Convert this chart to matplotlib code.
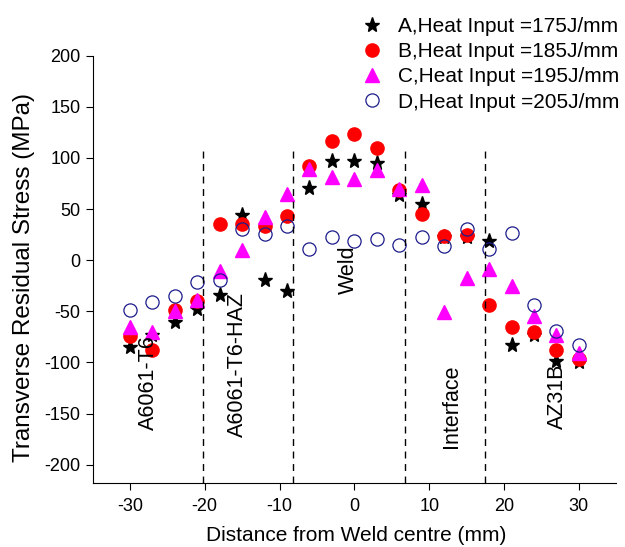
import numpy as np
import matplotlib
matplotlib.use('Agg')
import matplotlib.pyplot as plt

# ── Datos ──────────────────────────────────────────
distance = [-30, -27, -24, -21, -18, -15, -12, -9, -6, -3, 0,
            3, 6, 9, 12, 15, 18, 21, 24, 27, 30]

stress_a = [-85, -73, -60, -48, -34, 44, -19, -30, 71, 97, 97,
            95, 64, 55, 23, 23, 19, -83, -73, -99, -100]
stress_b = [-74, -88, -49, -40, 35, 35, 33, 43, 92, 117, 123,
            110, 69, 45, 24, 25, -44, -65, -70, -88, -97]
stress_c = [-65, -70, -50, -39, -11, 10, 42, 65, 89, 81, 79,
            88, 70, 74, -51, -17, -9, -25, -55, -73, -91]
stress_d = [-49, -41, -35, -21, -19, 31, 26, 33, 11, 23, 19,
            21, 15, 23, 14, 31, 11, 27, -44, -69, -83]

labels = ['A,Heat Input =175J/mm', 'B,Heat Input =185J/mm',
          'C,Heat Input =195J/mm', 'D,Heat Input =205J/mm']

zone_limits = [-20.2, -8.2, 6.8, 17.5]
zone_names = ['A6061-T6', 'A6061-T6-HAZ', 'Weld', 'Interface', 'AZ31B']
zone_x = [-27.5, -15.6, -0.8, 13.0, 27.2]
zone_y = [-120, -102, -9, -143, -133]

y_ticks = [-200, -150, -100, -50, 0, 50, 100, 150, 200]
x_ticks = [-30, -20, -10, 0, 10, 20, 30]

# ── Estilo ─────────────────────────────────────────
plt.rcParams['font.family'] = ['Liberation Sans', 'DejaVu Sans']
plt.rcParams['axes.unicode_minus'] = False

fig = plt.figure(figsize=(6.25, 5.47), dpi=100)
ax = fig.add_axes([0.148, 0.117, 0.838, 0.781])

ax.plot(distance, stress_a, linestyle='none', marker='*', color='black',
        markersize=11, label=labels[0])
ax.plot(distance, stress_b, linestyle='none', marker='o', color='red',
        markersize=9.5, label=labels[1])
ax.plot(distance, stress_c, linestyle='none', marker='^', color='#ff00ff',
        markersize=10, label=labels[2])
ax.plot(distance, stress_d, linestyle='none', marker='o', markerfacecolor='none',
        markeredgecolor='#1c1c8c', markeredgewidth=0.9, markersize=9.5,
        label=labels[3])

# Límites de zona (líneas discontinuas)
for xl in zone_limits:
    ax.plot([xl, xl], [-218, 110], color='black', linestyle=(0, (5, 4)),
            linewidth=1.0)

for name, xz, yz in zip(zone_names, zone_x, zone_y):
    ax.text(xz, yz, name, rotation=90, ha='center', va='center', fontsize=15.5)

ax.set_xlim(-35, 35)
ax.set_ylim(-218, 200)
ax.set_xticks(x_ticks)
ax.set_yticks(y_ticks)
ax.tick_params(direction='out', length=5, labelsize=13)
ax.tick_params(axis='x', pad=6)
ax.spines['top'].set_visible(False)
ax.spines['right'].set_visible(False)
ax.spines['left'].set_bounds(-218, 200)

ax.set_xlabel('Distance from Weld centre (mm)', fontsize=15)
ax.set_ylabel('Transverse Residual Stress (MPa)', fontsize=17.5)
ax.xaxis.set_label_coords(0.503, -0.10)
ax.yaxis.set_label_coords(-0.11, 0.482)

leg = fig.legend(loc='upper left', bbox_to_anchor=(362 / 625, 1 - 17 / 547),
                 frameon=False, fontsize=15, handletextpad=0.75,
                 labelspacing=0.3, handlelength=1.0, borderpad=0,
                 borderaxespad=0)

fig.savefig('out.png', dpi=100)
